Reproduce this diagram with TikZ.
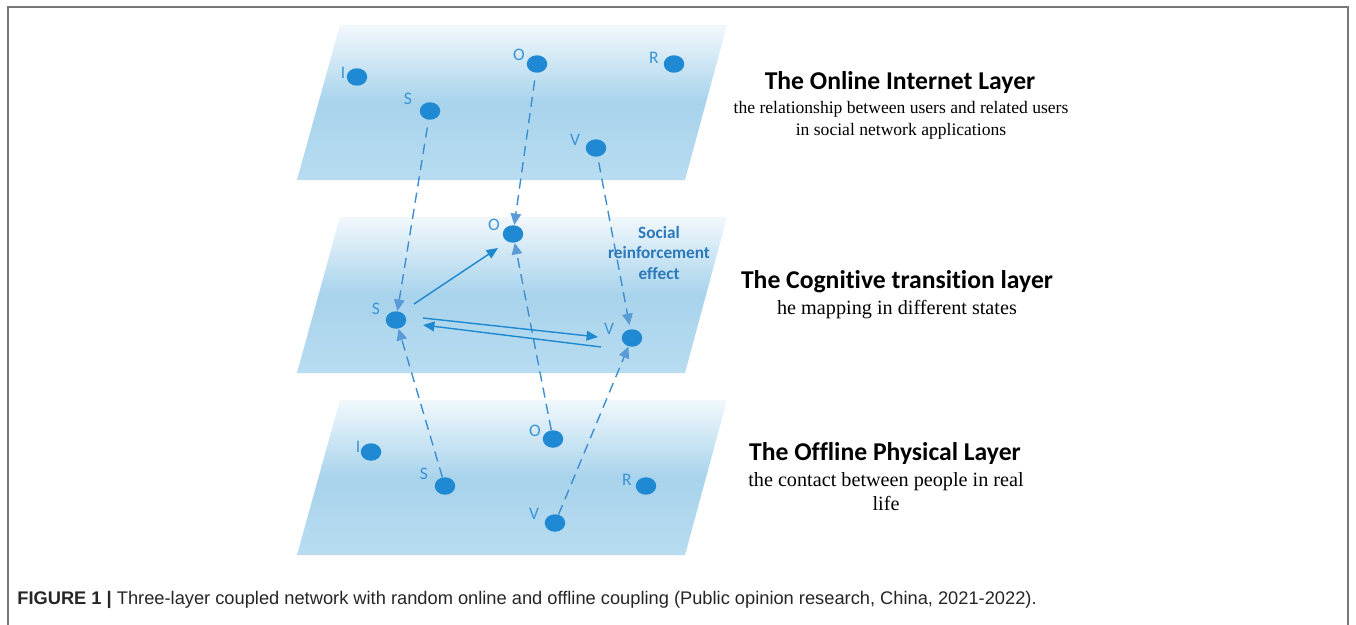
\documentclass[tikz,border=0pt]{standalone}
\usepackage{fontspec}
\setmainfont{Liberation Serif}
\newfontfamily\calib[Ligatures=NoCommon]{Carlito}
\newfontfamily\arialf{Liberation Sans}
\usetikzlibrary{shapes.geometric,arrows.meta}
\definecolor{nodeblue}{HTML}{1F8AD3}
\definecolor{labblue}{HTML}{3A94D6}
\definecolor{linkblue}{HTML}{3D8FD1}
\definecolor{headblue}{HTML}{5B9BD5}
\definecolor{solblue}{HTML}{1E88D0}
\definecolor{sreblue}{HTML}{2B79B9}
\definecolor{laytop}{HTML}{F1F8FC}
\definecolor{laymid}{HTML}{A8D3EC}
\definecolor{laybot}{HTML}{B8DCF0}
\definecolor{framegray}{HTML}{777777}
\tikzset{
  pnode/.style={ellipse,fill=nodeblue,minimum width=0.41cm,minimum height=0.35cm,inner sep=0pt},
  plabel/.style={text=labblue,font=\calib\fontsize{10}{11}\selectfont,inner sep=0pt},
  layer/.style={top color=laytop,bottom color=laybot,middle color=laymid,draw=none},
  dasharrow/.style={draw=linkblue,line width=0.8pt,dash pattern=on 5.8pt off 3.6pt,-{Triangle[length=6.5pt,width=6pt,color=headblue]}},
  solarrow/.style={draw=solblue,line width=0.8pt,-{Triangle[length=6.5pt,width=5.5pt]}},
  heading/.style={font=\calib\bfseries\fontsize{14.6}{17}\selectfont,inner sep=0pt},
  subtext/.style={font=\fontsize{10}{12.5}\selectfont,align=center,inner sep=0pt},
  subtextb/.style={font=\fontsize{11.5}{13.6}\selectfont,align=center,inner sep=0pt},
}
\begin{document}
\begin{tikzpicture}[x=0.02cm,y=-0.02cm]
\useasboundingbox (0,0) rectangle (1356,625);
\fill[white] (0,0) rectangle (1356,625);
% frame
\draw[framegray,line width=1.3pt] (8,625) -- (8,7) -- (1348,7) -- (1348,625);
% layers
\shade[layer] (340,25) -- (727,25) -- (685,180) -- (297,180) -- cycle;
\shade[layer] (340,217) -- (727,217) -- (685,373) -- (297,373) -- cycle;
\shade[layer] (340,400) -- (727,400) -- (685,555) -- (297,555) -- cycle;
% top layer nodes
\node[pnode] (tI) at (357,77) {};
\node[pnode] (tS) at (430,111) {};
\node[pnode] (tO) at (537,64) {};
\node[pnode] (tR) at (674,64) {};
\node[pnode] (tV) at (596,148) {};
\node[plabel] (ltI) at (343,73) {I};
\node[plabel] (ltS) at (408,99) {S};
\node[plabel] (ltO) at (519,55) {O};
\node[plabel] (ltR) at (654,58) {R};
\node[plabel] (ltV) at (575,140) {V};
% middle layer nodes
\node[pnode] (mO) at (513,234) {};
\node[pnode] (mS) at (396,320) {};
\node[pnode] (mV) at (632,338) {};
\node[plabel] (lmO) at (494,225) {O};
\node[plabel] (lmS) at (376,309) {S};
\node[plabel] (lmV) at (609,329) {V};
% bottom layer nodes
\node[pnode] (bI) at (371,452) {};
\node[pnode] (bS) at (445,486) {};
\node[pnode] (bO) at (553,439) {};
\node[pnode] (bR) at (646,486) {};
\node[pnode] (bV) at (555,523) {};
\node[plabel] (lbI) at (358,447) {I};
\node[plabel] (lbS) at (424,474) {S};
\node[plabel] (lbO) at (535,431) {O};
\node[plabel] (lbR) at (627,480) {R};
\node[plabel] (lbV) at (534,514) {V};
% dashed couplings
\draw[dasharrow,shorten <=0.15cm] (tS) -- (mS);
\draw[dasharrow,shorten <=0.15cm] (tO) -- (mO);
\draw[dasharrow,shorten <=0.11cm,shorten >=0.08cm] (tV) -- (mV);
\draw[dasharrow] (bS) -- (mS);
\draw[dasharrow] (bO) -- (mO);
\draw[dasharrow] (bV) -- (mV);
% solid arrows in cognitive layer
\draw[solarrow] ([shift={(18,-16)}]mS.center) -- ([shift={(-15,14)}]mO.center);
\draw[solarrow] ([shift={(27,-2)}]mS.center) -- ([shift={(-34,-1)}]mV.center);
\draw[solarrow] ([shift={(-31,9)}]mV.center) -- ([shift={(27,5)}]mS.center);
\node[font=\calib\bfseries\fontsize{9.8}{11.6}\selectfont,text=sreblue,align=center,inner sep=0pt] (sre) at (659,253) {Social\\reinforcement\\effect};
% layer descriptions
\node[heading] (h1) at (900,83) {The Online Internet Layer};
\node[subtext] (s1) at (901,120) {the relationship between users and related users\\in social network applications};
\node[heading] (h2) at (897,282) {The Cognitive transition layer};
\node[subtextb] (s2) at (897,310) {he mapping in different states};
\node[heading] (h3) at (885,454) {The Offline Physical Layer};
\node[subtextb] (s3) at (886,492) {the contact between people in real\\life};
% caption
\node[anchor=west,font=\arialf\fontsize{10.4}{12}\selectfont,text=black!85,inner sep=0pt] (cap) at (17,600) {\textbf{FIGURE 1 |} Three-layer coupled network with random online and offline coupling (Public opinion research, China, 2021-2022).};
\end{tikzpicture}
\end{document}
